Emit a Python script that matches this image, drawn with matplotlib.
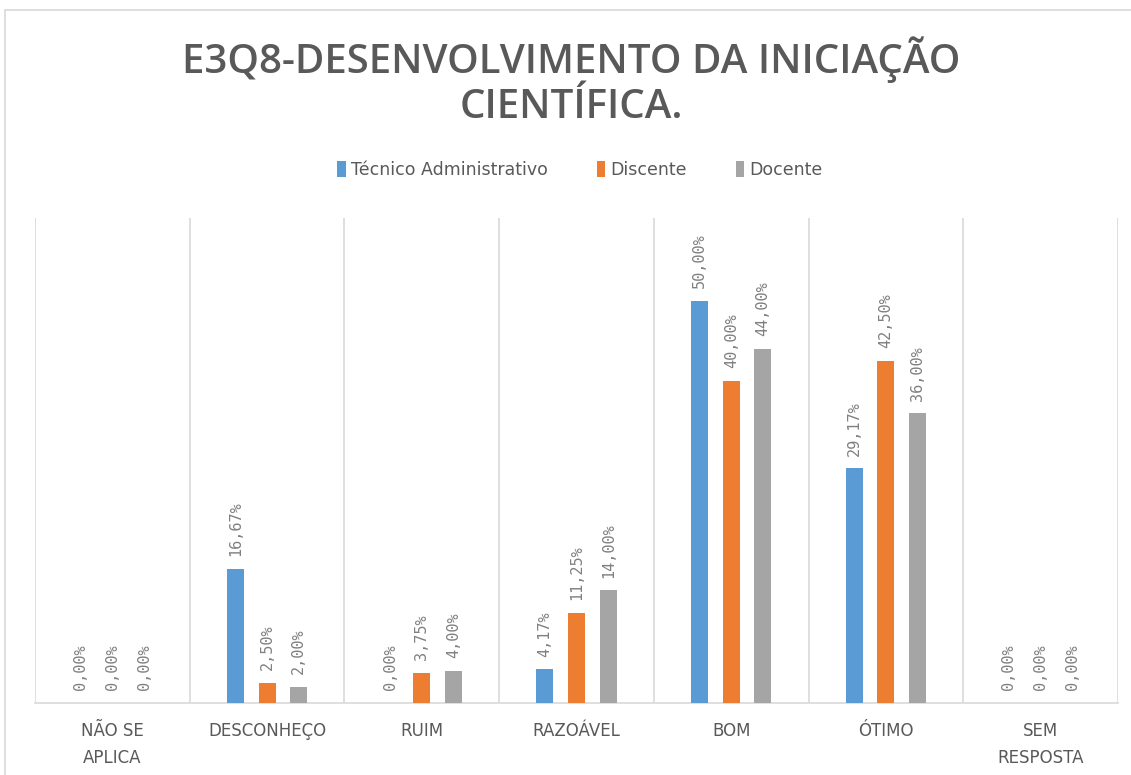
import matplotlib
matplotlib.use("Agg")
import matplotlib.pyplot as plt
import numpy as np
from matplotlib.patches import Rectangle

categories = ["NÃO SE\nAPLICA", "DESCONHEÇO", "RUIM", "RAZOÁVEL", "BOM", "ÓTIMO", "SEM\nRESPOSTA"]
series_names = ["Técnico Administrativo", "Discente", "Docente"]
tecnico = [0.00, 16.67, 0.00, 4.17, 50.00, 29.17, 0.00]
discente = [0.00, 2.50, 3.75, 11.25, 40.00, 42.50, 0.00]
docente = [0.00, 2.00, 4.00, 14.00, 44.00, 36.00, 0.00]
colors = ["#5B9BD5", "#ED7D31", "#A5A5A5"]

fig = plt.figure(figsize=(11.31, 7.75), dpi=100)
fig.patch.set_facecolor("white")
fig.patches.append(Rectangle((5/1131, -0.01), 1.02, (775-10)/775 + 0.01, transform=fig.transFigure,
                             fill=False, edgecolor="#D9D9D9", linewidth=1.2))

ax = fig.add_axes([35/1131, (775-703)/775, (1118-35)/1131, (703-218)/775])
x = np.arange(len(categories))
width = 0.11
offsets = [-0.205, 0.0, 0.205]
for vals, off, c, name in zip([tecnico, discente, docente], offsets, colors, series_names):
    ax.bar(x + off, vals, width, color=c, label=name, zorder=3)
    for xi, v in zip(x + off, vals):
        ax.text(xi, v + 1.6, f"{v:.2f}%".replace(".", ","), rotation=90, ha="center", va="bottom",
                fontsize=11, color="#808080", family="DejaVu Sans Mono")

ax.set_xlim(-0.5, len(categories) - 0.5)
ax.set_ylim(0, 60.3)
ax.set_yticks([])
ax.set_xticks(x)
ax.set_xticklabels(categories, fontsize=12, color="#595959", linespacing=1.6, family="DejaVu Sans")
ax.set_xticks(np.arange(-0.5, len(categories)), minor=True)
ax.grid(True, which="minor", axis="x", color="#D9D9D9", linewidth=1.2, zorder=0)
ax.tick_params(axis="x", which="both", length=0, pad=14)
for s in ["top", "left", "right"]:
    ax.spines[s].set_visible(False)
ax.spines["bottom"].set_color("#D9D9D9")
ax.spines["bottom"].set_linewidth(1.2)

fig.text(571/1131, 1 - 60/775, "E3Q8-DESENVOLVIMENTO DA INICIAÇÃO", ha="center", va="center",
         fontsize=29, fontweight=600, color="#595959", family="Open Sans")
fig.text(571/1131, 1 - 108/775, "CIENTÍFICA.", ha="center", va="center",
         fontsize=29, fontweight=600, color="#595959", family="Open Sans")

leg = fig.legend(loc="center", bbox_to_anchor=(580/1131, 1 - 170/775), ncol=3, frameon=False,
                 fontsize=12.5, handlelength=0.5, handleheight=1.0, handletextpad=0.3, columnspacing=2.8)
for t in leg.get_texts():
    t.set_color("#595959")

fig.savefig("out.png", dpi=100)
